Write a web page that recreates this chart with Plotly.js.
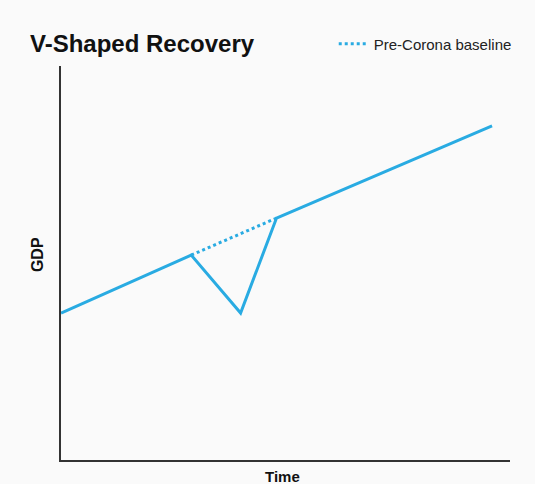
<!DOCTYPE html>
<html>
<head>
<meta charset="utf-8">
<script src="https://cdn.plot.ly/plotly-3.0.1.min.js"></script>
<style>html,body{margin:0;padding:0;background:#fafafa;}</style>
</head>
<body>
<div id="chart" style="width:535px;height:484px;"></div>
<script>
// Actual GDP path (V-shape)
const actualTime = [0, 29, 40, 48, 96];
const actualGDP  = [37.3, 52, 37.3, 61.4, 84.8];
// Pre-Corona baseline (dotted)
const baselineTime = [29, 48];
const baselineGDP  = [52, 61.4];

const lineColor = '#29abe2';

const traces = [
  {
    x: actualTime, y: actualGDP, mode: 'lines', type: 'scatter',
    line: {color: lineColor, width: 3}, showlegend: false, hoverinfo: 'skip'
  },
  {
    x: baselineTime, y: baselineGDP, mode: 'lines', type: 'scatter',
    name: 'Pre-Corona baseline',
    line: {color: lineColor, width: 3, dash: 'dot'}, hoverinfo: 'skip'
  }
];

const layout = {
  width: 535, height: 484,
  paper_bgcolor: '#fafafa', plot_bgcolor: '#fafafa',
  margin: {l: 61, r: 25, t: 66, b: 24},
  font: {family: 'Liberation Sans, Arial, sans-serif', color: '#222'},
  title: {
    text: '<b>V-Shaped Recovery</b>',
    font: {size: 24, color: '#111', family: 'Liberation Sans, Arial, sans-serif'},
    xref: 'container', yref: 'container', x: 30/535, xanchor: 'left',
    y: 1 - 44/484, yanchor: 'middle'
  },
  xaxis: {
    range: [0, 100], showgrid: false, zeroline: false, showticklabels: false, ticks: '',
    showline: true, linecolor: '#333', linewidth: 2, fixedrange: true
  },
  yaxis: {
    range: [0, 100], showgrid: false, zeroline: false, showticklabels: false, ticks: '',
    showline: true, linecolor: '#333', linewidth: 2, fixedrange: true
  },
  showlegend: true,
  legend: {
    x: 1.015, xanchor: 'right', y: (460-44)/394, yanchor: 'middle',
    bgcolor: 'rgba(0,0,0,0)', font: {size: 15, color: '#222'}
  },
  annotations: [
    {text: '<b>GDP</b>', xref: 'paper', yref: 'paper', x: (37-61)/449, y: 0.52,
     xanchor: 'center', yanchor: 'middle', textangle: -90, showarrow: false,
     font: {size: 16, color: '#111'}},
    {text: '<b>Time</b>', xref: 'paper', yref: 'paper', x: (282-61)/449, y: (460-466)/394,
     xanchor: 'center', yanchor: 'top', showarrow: false,
     font: {size: 15, color: '#111'}}
  ]
};

Plotly.newPlot('chart', traces, layout, {displayModeBar: false, staticPlot: true});
</script>
</body>
</html>
